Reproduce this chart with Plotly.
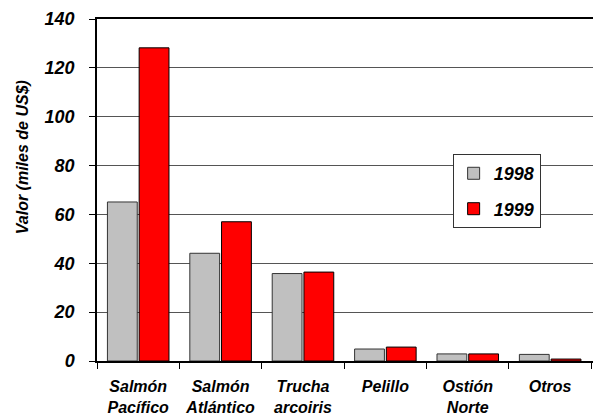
import plotly.graph_objects as go

categories = ["Salmón<br>Pacífico", "Salmón<br>Atlántico", "Trucha<br>arcoiris", "Pelillo", "Ostión<br>Norte", "Otros"]
values_1998 = [65.1, 44.1, 35.8, 4.9, 2.9, 2.7]
values_1999 = [128.2, 57.0, 36.4, 5.7, 2.9, 0.8]
y_ticks = [0, 20, 40, 60, 80, 100, 120, 140]

FONT = "Arial, 'Liberation Sans', sans-serif"

fig = go.Figure()
fig.add_trace(go.Bar(x=categories, y=values_1998, name="1998",
                     marker=dict(color="#C0C0C0", line=dict(color="#333333", width=1)),
                     legendgroup="a"))
fig.add_trace(go.Bar(x=categories, y=values_1999, name="1999",
                     marker=dict(color="#FF0000", line=dict(color="#000000", width=1)),
                     legendgroup="b"))

fig.update_layout(
    width=593, height=417,
    margin=dict(l=97, r=0, t=19, b=56, autoexpand=False),
    paper_bgcolor="white", plot_bgcolor="white",
    barmode="group", bargap=0.23, bargroupgap=0.06,
    font=dict(family=FONT, color="black"),
    showlegend=True,
    legend=dict(x=0.717, y=0.605, xanchor="left", yanchor="top",
                bordercolor="#333333", borderwidth=1, bgcolor="white",
                font=dict(family=FONT, size=18, weight="bold", style="italic", color="black"),
                tracegroupgap=9, traceorder="grouped"),
    xaxis=dict(range=[-0.5, 5.52], showline=True, linecolor="black", linewidth=1.5,
               mirror=True, ticks="outside", tickson="boundaries", ticklen=6,
               tickcolor="black", showgrid=False, tickangle=0, automargin=False,
               tickfont=dict(family=FONT, size=16, weight="bold", style="italic", color="black"),
               ticklabelstandoff=10),
    yaxis=dict(range=[0, 140], tickvals=y_ticks, showline=True, linecolor="black", linewidth=1.5,
               ticks="outside", ticklen=6, tickcolor="black", automargin=False,
               showgrid=True, gridcolor="#555555", gridwidth=1, zeroline=False,
               tickfont=dict(family=FONT, size=18, weight="bold", style="italic", color="black"),
               ticklabelstandoff=11),
    annotations=[dict(text="Valor (miles de US$)", textangle=-90, xref="paper", yref="paper",
                      x=-0.151, y=0.596, xanchor="center", yanchor="middle", showarrow=False,
                      font=dict(family=FONT, size=16, weight="bold", style="italic", color="black"))],
)

fig.write_html("out.html", config={"displayModeBar": False},
               post_script="document.body.style.margin='0';document.body.style.padding='0';")
